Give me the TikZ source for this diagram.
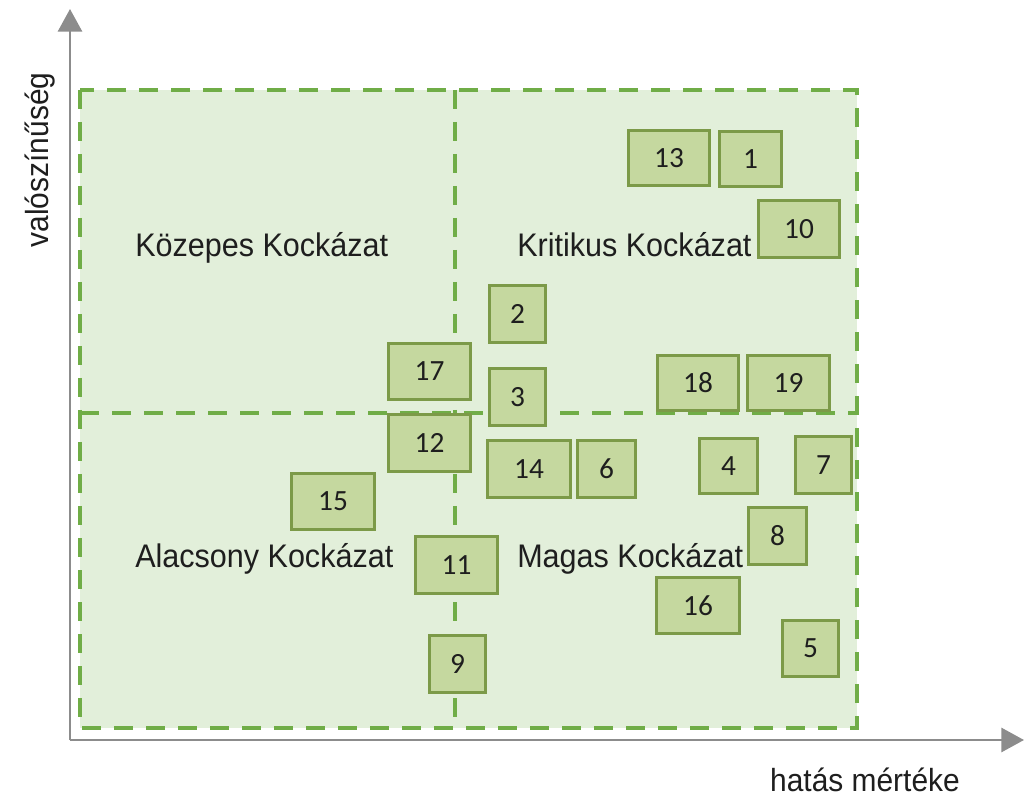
\documentclass[tikz,border=0pt]{standalone}
\usepackage{fontspec}
\setmainfont{Liberation Sans}
\newfontfamily\numfont{Carlito}
\usetikzlibrary{arrows.meta}
\definecolor{quadfill}{HTML}{E2EFDA}
\definecolor{quadline}{HTML}{70AD47}
\definecolor{boxfill}{HTML}{C5D89F}
\definecolor{boxline}{HTML}{7C9A48}
\definecolor{axisgray}{HTML}{8C8C8C}
\definecolor{txt}{HTML}{1E1E1E}
\newcommand{\narrowtxt}[1]{\scalebox{0.935}[1]{#1}}
\tikzset{
  px/.style={x=0.75pt,y=-0.75pt},
  numbox/.style 2 args={draw=boxline, fill=boxfill, line width=2.2pt, inner sep=0pt,
    minimum width=#1*0.75pt-2.2pt, minimum height=#2*0.75pt-2.2pt,
    font=\numfont\fontsize{22}{26}\selectfont, text=txt},
  quadlabel/.style={font=\fontsize{24.5}{29}\selectfont, text=txt, inner sep=0pt},
  axislabel/.style={font=\fontsize{24}{29}\selectfont, text=txt, inner sep=0pt},
  axisline/.style={draw=axisgray, line width=2.2pt, -{Triangle[width=18pt,length=17pt]}},
  quaddash/.style={draw=quadline, line width=3pt, dash pattern=on 14pt off 10pt},
}
\begin{document}
\begin{tikzpicture}[px]
\useasboundingbox (0,0) rectangle (1025,798);
\fill[white] (0,0) rectangle (1025,798);
% quadrants
\fill[quadfill] (80,90) rectangle (857,728);
\draw[quaddash] (80,90) rectangle (857,728);
\draw[quaddash] (455,90) -- (455,728);
\draw[quaddash] (80,413) -- (857,413);
% axes
\coordinate (O) at (70,740);
\coordinate (ytip) at (70,9);
\coordinate (xtip) at (1024,740);
\draw[axisline] (O) -- (ytip);
\draw[axisline] (O) -- (xtip);
\node[axislabel, rotate=90] (ylab) at (40,160) {\narrowtxt{valószínűség}};
\node[axislabel] (xlab) at (865,780) {\narrowtxt{hatás mértéke}};
% quadrant labels
\node[quadlabel, anchor=base west] (kozepes) at (135,257) {\narrowtxt{Közepes Kockázat}};
\node[quadlabel, anchor=base west] (kritikus) at (517,257) {\narrowtxt{Kritikus Kockázat}};
\node[quadlabel, anchor=base west] (alacsony) at (135,567) {\narrowtxt{Alacsony Kockázat}};
\node[quadlabel, anchor=base west] (magas) at (517,567) {\narrowtxt{Magas Kockázat}};
% risk boxes
\node[numbox={84}{58}] (b13) at (669,158) {13};
\node[numbox={65}{58}] (b1) at (750.5,159) {1};
\node[numbox={84}{60}] (b10) at (799,229) {10};
\node[numbox={59}{60}] (b2) at (517.5,314) {2};
\node[numbox={85}{59}] (b17) at (429.5,371.5) {17};
\node[numbox={59}{60}] (b3) at (517.5,397) {3};
\node[numbox={84}{58}] (b18) at (698,383) {18};
\node[numbox={85}{58}] (b19) at (788.5,383) {19};
\node[numbox={85}{60}] (b12) at (429.5,443) {12};
\node[numbox={86}{60}] (b14) at (529,469) {14};
\node[numbox={61}{60}] (b6) at (606.5,469) {6};
\node[numbox={61}{58}] (b4) at (728.5,466) {4};
\node[numbox={59}{60}] (b7) at (823.5,465) {7};
\node[numbox={86}{59}] (b15) at (333,501.5) {15};
\node[numbox={61}{60}] (b8) at (777.5,536) {8};
\node[numbox={85}{60}] (b11) at (456.5,565) {11};
\node[numbox={86}{59}] (b16) at (698,605.5) {16};
\node[numbox={59}{59}] (b5) at (810.5,648.5) {5};
\node[numbox={59}{60}] (b9) at (457.5,664) {9};
\end{tikzpicture}
\end{document}
